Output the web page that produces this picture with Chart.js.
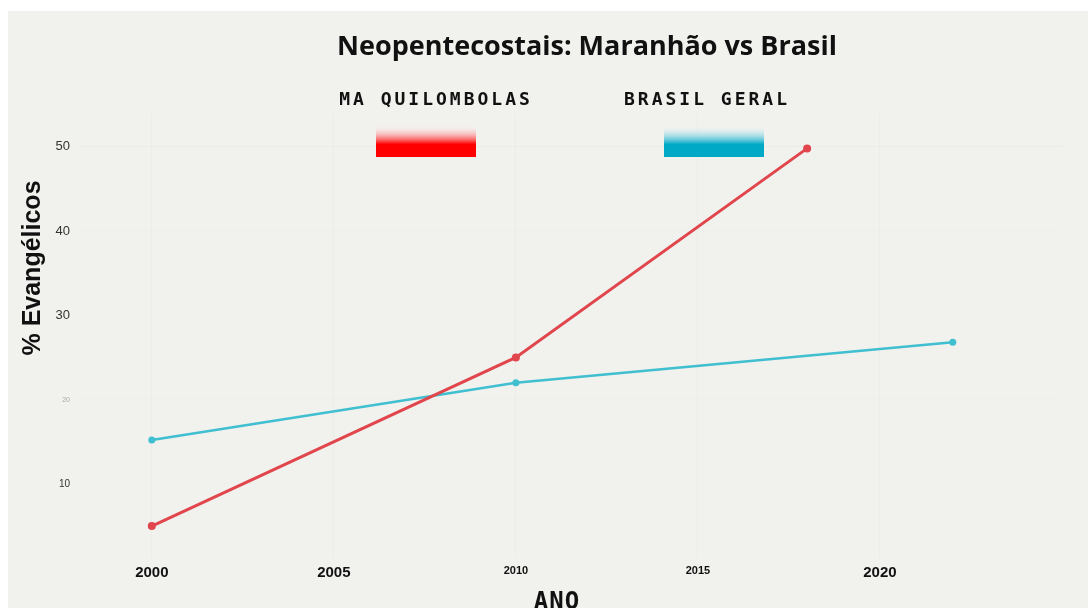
<!DOCTYPE html>
<html>
<head>
<meta charset="utf-8">
<script src="https://cdn.jsdelivr.net/npm/chart.js@4"></script>
<style>
  body { margin: 0; background: #fff; }
  canvas { display: block; }
</style>
</head>
<body>
<canvas id="grafico" width="1088" height="608"></canvas>
<script>
// dados
const anosMA = [2000, 2010, 2018];
const valoresMA = [5, 25, 49.8];
const anosBR = [2000, 2010, 2022];
const valoresBR = [15.2, 22, 26.8];

const ticksAno = [2000, 2005, 2010, 2015, 2020];
const ticksPct = [10, 20, 30, 40, 50];

const titulo = 'Neopentecostais: Maranhão vs Brasil';
const rotuloMA = 'MA QUILOMBOLAS';
const rotuloBR = 'BRASIL GERAL';

const corMA = '#e0464c';
const corBR = '#3fbfd0';

// fundo cinza com margem branca
const fundo = {
    id: 'fundo',
    beforeDraw(chart) {
        const c = chart.ctx;
        c.save();
        c.fillStyle = '#ffffff';
        c.fillRect(0, 0, chart.width, chart.height);
        c.fillStyle = '#f1f1ee';
        c.fillRect(8, 11, chart.width - 8, chart.height - 11);
        c.restore();
    }
};

// titulo, legenda com degrade e titulos dos eixos
const textos = {
    id: 'textos',
    afterDraw(chart) {
        const c = chart.ctx;
        c.save();
        c.fillStyle = '#111';
        c.textAlign = 'center';
        c.textBaseline = 'middle';
        c.font = 'bold 27px "Open Sans", Lato, sans-serif';
        c.fillText(titulo, 587, 47);

        c.font = 'bold 18px "DejaVu Sans Mono", monospace';
        c.letterSpacing = '3px';
        c.fillText(rotuloMA, 436, 100);
        c.fillText(rotuloBR, 707, 100);

        c.font = 'bold 24px "DejaVu Sans Mono", monospace';
        c.letterSpacing = '1px';
        c.fillText('ANO', 557, 603);
        c.letterSpacing = '0px';

        const caixa = (x, cor) => {
            const g = c.createLinearGradient(0, 125, 0, 157);
            g.addColorStop(0, 'rgba(255,255,255,0)');
            g.addColorStop(0.6, cor);
            g.addColorStop(1, cor);
            c.fillStyle = g;
            c.fillRect(x, 125, 100, 32);
        };
        caixa(376, '#ff0000');
        caixa(664, '#00aac7');

        c.translate(33, 268);
        c.rotate(-Math.PI / 2);
        c.fillStyle = '#111';
        c.font = 'bold 25px "Liberation Sans", Arial, sans-serif';
        c.fillText('% Evangélicos', 0, 0);
        c.restore();
    }
};

const ctx = document.getElementById('grafico').getContext('2d');
new Chart(ctx, {
    type: 'line',
    data: {
        datasets: [{
            label: rotuloMA,
            data: anosMA.map((a, i) => ({ x: a, y: valoresMA[i] })),
            borderColor: corMA,
            backgroundColor: corMA,
            borderWidth: 3,
            pointRadius: 4,
            pointBorderWidth: 0,
            fill: false
        }, {
            label: rotuloBR,
            data: anosBR.map((a, i) => ({ x: a, y: valoresBR[i] })),
            borderColor: corBR,
            backgroundColor: corBR,
            borderWidth: 2.5,
            pointRadius: 3.5,
            pointBorderWidth: 0,
            fill: false
        }]
    },
    options: {
        responsive: false,
        animation: false,
        layout: { padding: { left: 8, top: 113, right: 26, bottom: 0 } },
        plugins: {
            legend: { display: false },
            title: { display: false },
            tooltip: { enabled: false }
        },
        scales: {
            x: {
                type: 'linear',
                min: 1998,
                max: 2025,
                afterBuildTicks: s => { s.ticks = ticksAno.map(v => ({ value: v })); },
                afterFit: s => { s.height = 56; },
                border: { display: false },
                grid: { color: 'rgba(0,0,0,0.018)', tickLength: 6 },
                ticks: {
                    padding: 6,
                    color: '#111',
                    callback: v => String(v),
                    font: c => (c.tick && (c.tick.value === 2010 || c.tick.value === 2015))
                        ? { family: '"Liberation Sans Narrow", "Liberation Sans", sans-serif', size: 11, weight: 'bold' }
                        : { family: '"Liberation Sans Narrow", "Liberation Sans", sans-serif', size: 15, weight: 'bold' }
                }
            },
            y: {
                min: 1.92,
                max: 54,
                afterBuildTicks: s => { s.ticks = ticksPct.map(v => ({ value: v })); },
                afterFit: s => { s.width = 71; },
                border: { display: false },
                grid: {
                    color: c => (c.tick && c.tick.value === 50) ? 'rgba(0,0,0,0.025)' : 'rgba(0,0,0,0.008)',
                    drawTicks: false
                },
                ticks: {
                    padding: 9,
                    callback: v => String(v),
                    color: c => (c.tick && c.tick.value === 20) ? '#aaa' : '#333',
                    font: c => {
                        const v = c.tick ? c.tick.value : 0;
                        if (v === 20) return { family: '"Liberation Sans", sans-serif', size: 7 };
                        if (v === 10) return { family: '"Liberation Sans", sans-serif', size: 10 };
                        return { family: '"Liberation Sans", sans-serif', size: 13 };
                    }
                }
            }
        }
    },
    plugins: [fundo, textos]
});
</script>
</body>
</html>
